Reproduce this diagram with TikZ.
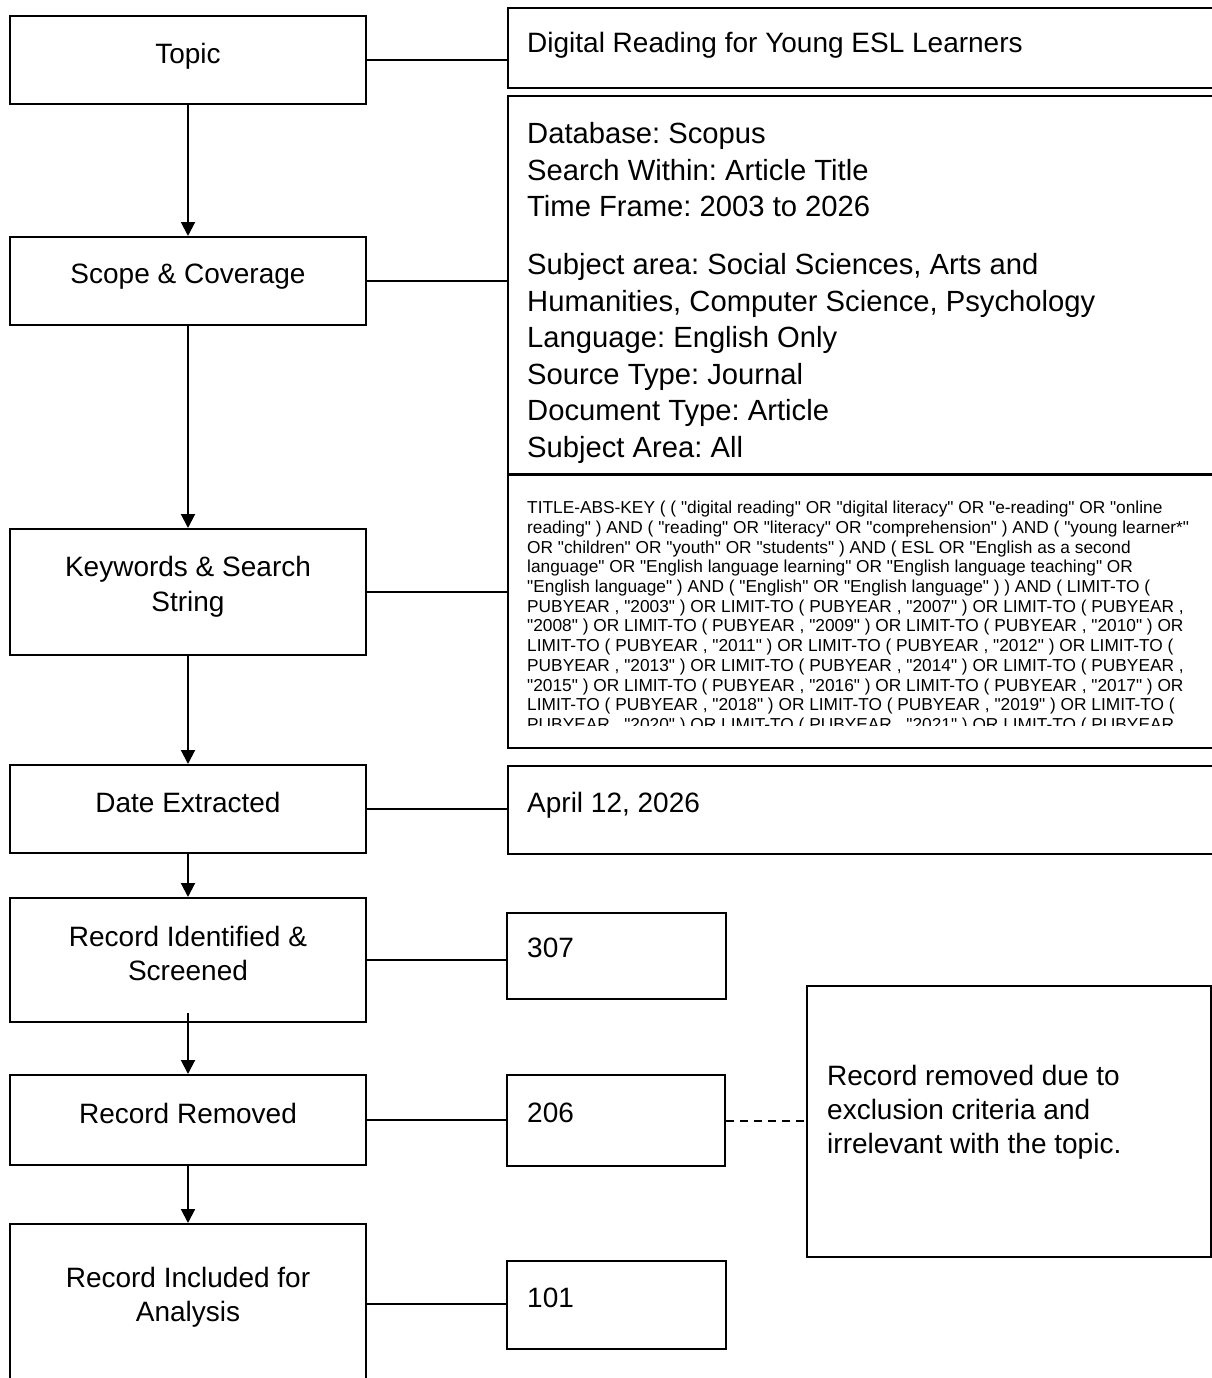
\documentclass[tikz,border=0pt]{standalone}
\usepackage{fontspec}
\setmainfont{Liberation Sans}[Ligatures=TeXOff]
\usetikzlibrary{arrows.meta,positioning}
\frenchspacing

\begin{document}
\begin{tikzpicture}[x=1pt,y=-1pt,
    stage/.style={draw,line width=2pt,minimum width=356pt,inner sep=0pt,align=center,
      text depth=14pt,font=\fontsize{28}{34.5}\selectfont},
    info/.style={draw,line width=2pt,anchor=north west,inner sep=0pt},
    txt/.style={anchor=base west,inner sep=0pt,font=\fontsize{28}{34}\selectfont},
    link/.style={line width=2pt},
    flow/.style={line width=2pt,-{Triangle[width=14pt,length=14pt]}}]
\useasboundingbox (0,0) rectangle (1212,1378);
\clip (0,0) rectangle (1212,1378);

% left column
\node[stage,minimum height=88pt] (topic) at (188,60) {Topic};
\node[stage,minimum height=88pt] (scope) at (188,281) {Scope \& Coverage};
\node[stage,minimum height=126pt,text depth=16.4pt] (keyw) at (188,592) {Keywords \& Search\\String};
\node[stage,minimum height=88pt] (date) at (188,809) {Date Extracted};
\node[stage,minimum height=124pt,text depth=13.5pt] (ident) at (188,960) {Record Identified \&\\Screened};
\node[stage,minimum height=90pt] (rem) at (188,1120) {Record Removed};
\node[stage,minimum height=160pt,text depth=19.4pt] (incl) at (188,1304) {Record Included for\\Analysis};

% right column
\node[info,minimum width=733pt,minimum height=80pt] (topicR) at (507,7) {};
\node[info,minimum width=733pt,minimum height=378pt] (scopeR) at (507,95) {};
\node[info,minimum width=733pt,minimum height=273pt] (keywR) at (507,474) {};
\node[info,minimum width=733pt,minimum height=88pt] (dateR) at (507,765) {};
\node[info,minimum width=219pt,minimum height=86pt] (n307) at (506,912) {};
\node[info,minimum width=218pt,minimum height=91pt] (n206) at (506,1074) {};
\node[info,minimum width=219pt,minimum height=88pt] (n101) at (506,1260) {};
\node[info,minimum width=404pt,minimum height=271pt] (excl) at (806,985) {};

\node[txt] (topicT) at (527,53) {Digital Reading for Young ESL Learners};
\node[txt,anchor=north west,align=left,font=\fontsize{29.2}{36.5}\selectfont] (scopeT) at (527,122.5)
  {Database: Scopus\\
   Search Within: Article Title\\
   Time Frame: 2003 to 2026\\[21.5pt]
   Subject area: Social Sciences, Arts and\\
   Humanities, Computer Science, Psychology\\
   Language: English Only\\
   Source Type: Journal\\
   Document Type: Article\\
   Subject Area: All};
\begin{scope}
\clip (507,474) rectangle (1240,725);
\node[txt,anchor=north west,align=left,font=\fontsize{17.3}{19.7}\selectfont] (keywT) at (527,501)
  {TITLE-ABS-KEY ( ( "digital reading" OR "digital literacy" OR "e-reading" OR "online\\
   reading" ) AND ( "reading" OR "literacy" OR "comprehension" ) AND ( "young learner*"\\
   OR "children" OR "youth" OR "students" ) AND ( ESL OR "English as a second\\
   language" OR "English language learning" OR "English language teaching" OR\\
   "English language" ) AND ( "English" OR "English language" ) ) AND ( LIMIT-TO (\\
   PUBYEAR , "2003" ) OR LIMIT-TO ( PUBYEAR , "2007" ) OR LIMIT-TO ( PUBYEAR ,\\
   "2008" ) OR LIMIT-TO ( PUBYEAR , "2009" ) OR LIMIT-TO ( PUBYEAR , "2010" ) OR\\
   LIMIT-TO ( PUBYEAR , "2011" ) OR LIMIT-TO ( PUBYEAR , "2012" ) OR LIMIT-TO (\\
   PUBYEAR , "2013" ) OR LIMIT-TO ( PUBYEAR , "2014" ) OR LIMIT-TO ( PUBYEAR ,\\
   "2015" ) OR LIMIT-TO ( PUBYEAR , "2016" ) OR LIMIT-TO ( PUBYEAR , "2017" ) OR\\
   LIMIT-TO ( PUBYEAR , "2018" ) OR LIMIT-TO ( PUBYEAR , "2019" ) OR LIMIT-TO (\\
   PUBYEAR , "2020" ) OR LIMIT-TO ( PUBYEAR , "2021" ) OR LIMIT-TO ( PUBYEAR};
\end{scope}
\node[txt] (dateT) at (527,812) {April 12, 2026};
\node[txt] (t307) at (527,957) {307};
\node[txt] (t206) at (527,1122) {206};
\node[txt] (t101) at (527,1307) {101};
\node[txt,anchor=north west,align=left] (exclT) at (827,1065)
  {Record removed due to\\exclusion criteria and\\irrelevant with the topic.};

% connectors
\draw[flow] (topic) -- (scope);
\draw[flow] (scope) -- (keyw);
\draw[flow] (keyw) -- (date);
\draw[flow] (date) -- (ident);
\draw[flow] ([yshift=10pt]ident.south) -- (rem);
\draw[flow] (rem) -- (incl);

\draw[link] (topic.east) -- (topic.east -| topicR.west);
\draw[link] (scope.east) -- (scope.east -| scopeR.west);
\draw[link] (keyw.east) -- (keyw.east -| keywR.west);
\draw[link] (date.east) -- (date.east -| dateR.west);
\draw[link] (ident.east) -- (ident.east -| n307.west);
\draw[link] (rem.east) -- (rem.east -| n206.west);
\draw[link] (incl.east) -- (incl.east -| n101.west);
\draw[link,dash pattern=on 8pt off 6pt] (n206.east) -- (n206.east -| excl.west);
\end{tikzpicture}
\end{document}
